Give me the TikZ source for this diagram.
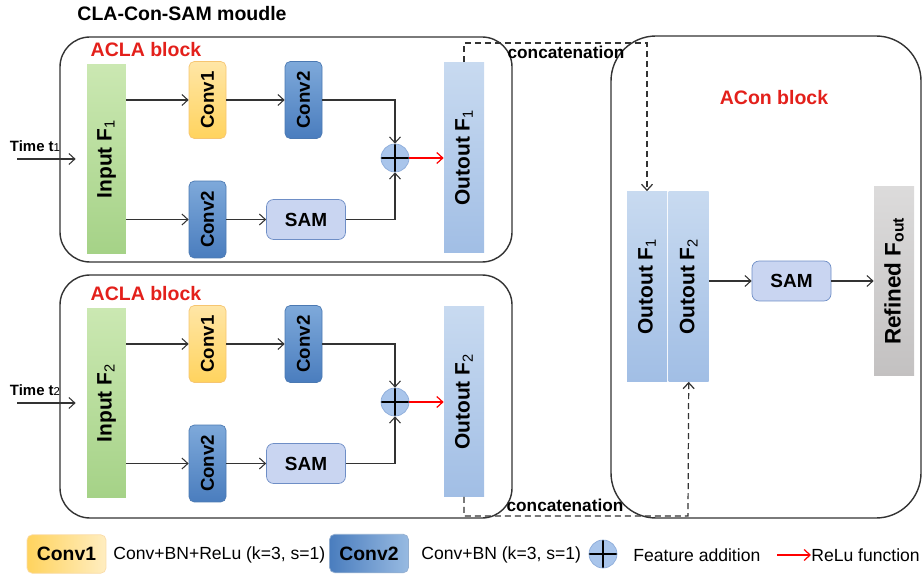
\documentclass[tikz,border=0pt]{standalone}
\usepackage{fontspec}
\setmainfont{Liberation Sans}
\usepackage{graphicx}
\usepackage{tikz}
\usetikzlibrary{arrows.meta, positioning, calc}

\definecolor{inGreenTop}{HTML}{CBE8B2}
\definecolor{inGreenBot}{HTML}{A5D287}
\definecolor{convOneTop}{HTML}{FFE6A6}
\definecolor{convOneBot}{HTML}{FFD35E}
\definecolor{convOneEdge}{HTML}{F6C571}
\definecolor{convTwoTop}{HTML}{7EA9DA}
\definecolor{convTwoBot}{HTML}{4A7DBE}
\definecolor{convTwoEdge}{HTML}{4B79B2}
\definecolor{samFill}{HTML}{C9D5F1}
\definecolor{samEdge}{HTML}{6E8EC6}
\definecolor{outTop}{HTML}{C8DAF0}
\definecolor{outBot}{HTML}{A1BEE5}
\definecolor{refTop}{HTML}{DCDBDB}
\definecolor{refBot}{HTML}{C3C1C1}
\definecolor{addFill}{HTML}{A9C5EB}
\definecolor{addEdge}{HTML}{8EADDA}
\definecolor{lineGray}{HTML}{333333}
\definecolor{blockRed}{HTML}{E3201B}

\begin{document}
\begin{tikzpicture}[
  x=0.02cm, y=-0.02cm,
  >={Straight Barb[length=1.2mm,width=2.2mm]},
  frame/.style={draw=lineGray, line width=0.8pt, rounded corners=#1},
  bar/.style={minimum width=0.8cm, minimum height=3.8cm, inner sep=0pt,
    font=\bfseries\fontsize{11.9}{13}\selectfont},
  inbar/.style={bar, minimum width=0.78cm, minimum height=3.78cm,
    top color=inGreenTop, bottom color=inGreenBot},
  outbar/.style={bar, top color=outTop, bottom color=outBot},
  refbar/.style={bar, top color=refTop, bottom color=refBot,
    font=\bfseries\fontsize{12.8}{15}\selectfont},
  convbox/.style={rounded corners=3pt, minimum width=0.74cm, minimum height=1.54cm,
    inner sep=0pt, font=\bfseries\fontsize{10.6}{12}\selectfont},
  convone/.style={convbox, top color=convOneTop, bottom color=convOneBot, draw=convOneEdge},
  convtwo/.style={convbox, top color=convTwoTop, bottom color=convTwoBot, draw=convTwoEdge},
  legconv/.style={rounded corners=3pt, minimum width=1.58cm, minimum height=0.77cm,
    inner sep=0pt, font=\bfseries\fontsize{11}{12}\selectfont},
  sambox/.style={rounded corners=4pt, draw=samEdge, fill=samFill,
    minimum width=1.58cm, minimum height=0.8cm, inner sep=0pt,
    font=\bfseries\fontsize{10.8}{12}\selectfont},
  addnode/.style={circle, draw=addEdge, fill=addFill, minimum size=0.56cm, inner sep=0pt,
    path picture={\draw[black, line width=1.5pt]
      (path picture bounding box.north) -- (path picture bounding box.south)
      (path picture bounding box.west) -- (path picture bounding box.east);}},
  arr/.style={->, draw=lineGray, line width=0.6pt},
  reluarr/.style={->, draw=red, line width=0.7pt},
  concat/.style={->, draw=lineGray, line width=0.7pt, dash pattern=on 1.2mm off 0.8mm},
  blocktitle/.style={text=blockRed, font=\bfseries\fontsize{11.1}{13}\selectfont},
  timelabel/.style={font=\bfseries\fontsize{8.5}{10}\selectfont},
  legtext/.style={font=\fontsize{10}{12}\selectfont, inner sep=0pt, anchor=west}
]
\useasboundingbox (0,0) rectangle (922,577);

% Title
\node[font=\bfseries\fontsize{11.1}{13}\selectfont] (title) at (182,14) {CLA-Con-SAM moudle};

% ACLA blocks (one per time step)
\foreach \i/\dy/\ftop/\fbot in {1/0/37/262, 2/244/275/518} {
  \draw[frame=0.6cm] (60,\ftop) rectangle (512,\fbot);
  \node[blocktitle] (acla\i) at (146,50+\dy) {ACLA block};
  \node[inbar] (in\i) at (106.5,159+\dy) {\rotatebox{90}{Input F\textsubscript{\mdseries\i}}};
  \node[convone] (cone\i) at (207.5,100+\dy) {\rotatebox{90}{Conv1}};
  \node[convtwo] (ctwo\i) at (303.5,100+\dy) {\rotatebox{90}{Conv2}};
  \node[convtwo] (cthree\i) at (207.5,219.5+\dy) {\rotatebox{90}{Conv2}};
  \node[sambox] (sam\i) at (306,219.5+\dy) {SAM};
  \node[addnode] (add\i) at (395,158+\dy) {};
  \node[outbar] (out\i) at (464,157.5+\dy) {\rotatebox{90}{Outout F\textsubscript{\mdseries\i}}};
  \node[timelabel] (time\i) at (35,146+\dy) {Time t{\mdseries\fontsize{6.5}{7}\selectfont\i}};
  \coordinate (tin\i) at (17,159+\dy);

  \draw[arr, shorten >=0.22cm] (tin\i) -- (in\i.west);
  \draw[arr] (in\i.east |- cone\i.west) -- (cone\i.west);
  \draw[arr] (cone\i) -- (ctwo\i);
  \draw[arr] (in\i.east |- cthree\i.west) -- (cthree\i.west);
  \draw[arr] (cthree\i) -- (sam\i);
  \draw[arr] (ctwo\i.east) -| (add\i.north);
  \draw[arr] (sam\i.east) -| (add\i.south);
  \draw[reluarr] (add\i.east) -- (out\i.west |- add\i.east);
}

% ACon block
\draw[frame=0.9cm] (611,36) rectangle (921,518);
\node[blocktitle] (acon) at (774,98) {ACon block};
\node[outbar] (cat1) at (647,286.5) {\rotatebox{90}{Outout F\textsubscript{\mdseries 1}}};
\node[outbar, right=0.02cm of cat1] (cat2) {\rotatebox{90}{Outout F\textsubscript{\mdseries 2}}};
\node[sambox] (sam3) at (791.5,281) {SAM};
\node[refbar] (refined) at (894,281) {\rotatebox{90}{Refined F\textsubscript{out}}};
\draw[arr] (cat2.east |- sam3.west) -- (sam3.west);
\draw[arr] (sam3) -- (refined);

% concatenation paths
\coordinate (cup) at (647,43);
\coordinate (cdown) at (688,516);
\draw[concat] (out1.north) |- (cup) -- (cat1.north);
\draw[concat] (out2.south) |- (cdown) -- (cat2.south);
\node[font=\bfseries\fontsize{9.8}{11}\selectfont] (cattop) at (566,52) {concatenation};
\node[font=\bfseries\fontsize{9.8}{11}\selectfont] (catbot) at (565,505) {concatenation};

% Legend
\node[legconv, left color=convOneBot, right color=convOneTop!70!white, draw=convOneEdge!60] (legone) at (66.5,554) {Conv1};
\node[legtext] (legonetxt) at (113,555) {Conv+BN+ReLu (k=3, s=1)};
\node[legconv, left color=convTwoBot, right color=convTwoTop!80!white, draw=convTwoEdge!60] (legtwo) at (369,553.5) {Conv2};
\node[legtext] (legtwotxt) at (421,555) {Conv+BN (k=3, s=1)};
\node[addnode] (legadd) at (603,554) {};
\node[legtext] (legaddtxt) at (633,555) {Feature addition};
\coordinate (legrelu) at (777,555);
\node[legtext] (legrelutxt) at (811,555) {ReLu function};
\draw[reluarr] (legrelu) -- (legrelutxt.west);

\end{tikzpicture}
\end{document}
